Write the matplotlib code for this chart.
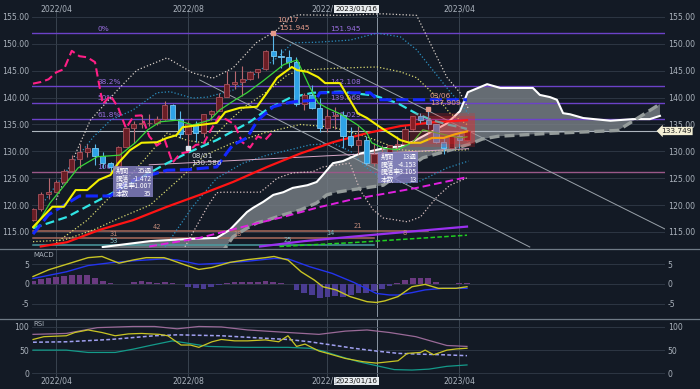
import numpy as np
import matplotlib
matplotlib.use("Agg")
import matplotlib.pyplot as plt
from matplotlib.patches import Rectangle
from matplotlib.lines import Line2D
from matplotlib.transforms import blended_transform_factory

plt.rcParams['font.family'] = ['DejaVu Sans']
JP = ['Noto Sans CJK JP', 'DejaVu Sans']

# weekly candles, index 0 = week of 2022-03-14
opens = [117.3, 119.2, 122.0, 122.5, 124.3, 126.4, 128.5, 129.8, 130.6, 129.2, 127.9, 127.1, 130.9, 134.4, 135.0,
         135.2, 135.2, 136.1, 138.6, 136.1, 133.2, 135.0, 133.5, 136.9, 137.6, 140.2, 142.6, 142.9, 143.4, 144.7,
         145.3, 148.7, 147.7, 147.5, 146.6, 138.8, 140.4, 138.1, 134.3, 136.6, 136.7, 132.8, 131.1, 132.1, 127.9,
         129.6, 129.9, 131.2, 131.4, 134.1, 136.5, 135.9, 135.0, 131.7, 130.7, 132.8, 132.2]
highs = [119.4, 122.4, 125.1, 124.7, 126.7, 129.4, 131.3, 131.3, 131.3, 129.8, 128.0, 131.0, 134.6, 135.6, 136.7,
         137.0, 136.6, 139.4, 138.9, 137.5, 135.6, 135.6, 137.0, 137.7, 140.8, 145.0, 144.9, 145.9, 144.9, 145.4,
         148.9, 151.945, 149.1, 148.8, 147.6, 140.8, 142.3, 139.9, 137.9, 138.2, 137.5, 134.5, 134.8, 132.9, 131.6,
         131.1, 131.2, 132.9, 134.8, 136.5, 137.1, 137.909, 135.1, 132.6, 133.2, 133.8, 134.0]
lows = [117.0, 118.9, 121.2, 122.4, 124.2, 126.3, 126.9, 128.9, 127.5, 126.9, 126.2, 127.0, 130.8, 131.5, 134.3,
        134.7, 134.9, 135.9, 136.9, 132.5, 130.586, 131.7, 132.6, 135.8, 137.5, 140.2, 141.6, 140.3, 143.3, 143.6,
        145.2, 146.2, 145.5, 145.6, 138.5, 137.7, 137.9, 133.6, 133.6, 134.1, 130.6, 130.8, 129.5, 127.5, 127.2,
        129.0, 128.1, 129.8, 131.3, 133.9, 135.3, 134.1, 131.6, 129.6, 130.4, 130.6, 131.9]
closes = [119.2, 122.0, 122.5, 124.3, 126.4, 128.5, 129.8, 130.6, 129.2, 127.9, 127.1, 130.9, 134.4, 135.0, 135.2,
          135.2, 136.1, 138.6, 136.1, 133.2, 135.0, 133.5, 136.9, 137.6, 140.2, 142.6, 142.9, 143.4, 144.7, 145.3,
          148.7, 147.7, 147.5, 146.6, 138.8, 140.4, 138.1, 134.3, 136.6, 136.7, 132.8, 131.1, 132.1, 127.9, 129.6,
          129.9, 131.2, 131.4, 134.1, 136.5, 135.9, 135.0, 131.7, 130.7, 132.8, 132.2, 133.749]

month_pos = [3, 20, 38, 55]
month_labels = ["2022/04", "2022/08", "2022/12", "2023/04"]
cross_pos = 44.4
cross_label = "2023/01/16"
last_price = 133.749

# indicator lines (week index, value)
tenkan_x = [0, 2.5, 4, 5.5, 7, 8.5, 10, 11, 12.5, 14, 16, 17.3, 18.5, 19.3, 21.5, 23.7, 24.8, 26.7, 28.9, 30.2,
            31.5, 33.4, 34.1, 35.4, 36.8, 37.7, 39.6, 40.5, 41.9, 43.1, 44.8, 47.4, 48.6, 50, 51.5, 53, 54.5, 56]
tenkan_y = [115.9, 119.7, 119.7, 122.8, 122.8, 124.7, 125.6, 127.8, 130.2, 131.6, 131.7, 132.5, 133.0, 134.5, 134.9,
            135.3, 137.3, 138.1, 138.3, 140.9, 143.7, 145.7, 145.1, 144.8, 143.8, 142.7, 142.7, 140.5, 137.1, 136.2,
            134.5, 132.1, 131.6, 131.6, 132.5, 132.5, 133.2, 133.7]
kijun_x = [0, 2, 4.5, 6, 10, 12, 14.2, 17.3, 20, 23.7, 25, 25.8, 27.6, 29.0, 31, 32.8, 34, 36.5, 37, 43.5, 44.5, 56]
kijun_y = [114.6, 118.2, 120.4, 121.7, 121.7, 124.1, 125.2, 126.5, 126.6, 127.1, 129.7, 131.2, 132.5, 135.8, 138.3,
           139.0, 139.3, 139.5, 140.9, 140.9, 139.6, 139.6]
green_x = [0.3, 2.2, 3.9, 5.8, 8.3, 11.2, 13.2, 14.8, 16.4, 18.6, 20.6, 22.8, 24.1, 26.1, 27.6, 29.5, 31, 32.3,
           33.2, 34.1, 34.5, 35.7, 36.8, 37.9, 39.6, 41.9, 43.1, 43.7, 45.2, 47, 49, 50.3, 51.6, 53.4, 55.1, 56]
green_y = [115.9, 120.4, 123.4, 126.9, 129.0, 129.3, 131.6, 134.0, 135.5, 135.8, 134.9, 135.8, 137.7, 139.6, 140.9,
           142.9, 144.6, 146.1, 146.6, 147.0, 145.7, 142.0, 139.0, 138.1, 137.0, 134.9, 133.4, 131.6, 130.6, 130.3,
           131.7, 134.0, 133.6, 133.0, 132.5, 132.7]
ma26_x = [0, 4.4, 8.6, 12.9, 17.3, 19.9, 23.7, 28, 30.2, 33.2, 36.1, 39.6, 44, 47, 49.5, 51.5, 53.5, 56]
ma26_y = [115.7, 117.8, 121.0, 124.3, 127.8, 129.7, 132.1, 135.5, 137.8, 140.0, 140.9, 141.1, 140.4, 139.0, 137.0,
          135.8, 135.0, 134.2]
ma52_x = [1, 4.4, 8.6, 12.9, 17.3, 21.5, 25.8, 30.2, 34.5, 38.7, 43.1, 47.4, 51.6, 56]
ma52_y = [112.3, 113.1, 115.4, 117.2, 119.7, 121.9, 124.3, 127.1, 129.6, 131.7, 133.4, 134.7, 135.4, 135.8]
ma104_x = [15, 21.5, 24.5, 28, 32.3, 36.6, 41, 49.5, 56]
ma104_y = [112.3, 113.9, 115.0, 116.3, 117.8, 119.5, 121.0, 123.2, 125.2]
ma156_x = [29.3, 35, 41, 56]
ma156_y = [112.3, 113.3, 114.1, 116.0]
ma200_x = [31.8, 41, 56]
ma200_y = [112.3, 113.0, 114.4]

span_a_x = [9, 15.1, 20, 23.7, 25.4, 27.6, 28.4, 29.7, 31.0, 32.3, 33.5, 35.4, 36.6, 37.4, 38.7, 40.0, 42.2, 45.0,
            47.4, 49.0, 50.3, 51.6, 53.4, 55.1, 56.1, 58.1, 58.6, 60.3, 64.5, 65.4, 66.7, 67.6, 68.4, 69.3, 71.0,
            74.5, 77.4, 79.6, 80.9]
span_a_y = [112.2, 113.3, 113.7, 113.9, 115.4, 118.7, 119.5, 120.6, 121.9, 122.4, 123.2, 123.7, 124.3, 125.6, 127.8,
            128.2, 129.6, 130.5, 131.0, 131.8, 132.8, 133.8, 135.2, 137.5, 141.0, 142.2, 142.5, 141.8, 141.8, 140.5,
            140.1, 139.6, 137.1, 136.9, 136.2, 135.7, 136.0, 136.0, 136.6]
span_b_x = [9, 24, 25.0, 25.8, 27.6, 28.9, 30.2, 32.3, 34.5, 36.6, 37.9, 39.2, 40.9, 45.2, 47.4, 48.6, 50.3, 52.5,
            54.7, 56.8, 58, 60, 66, 71, 75.5, 80.9]
span_b_y = [108, 110.5, 112.4, 114.1, 115.7, 116.7, 117.2, 118.2, 119.1, 120.4, 121.9, 122.4, 122.8, 123.7, 126.0,
            127.1, 128.8, 129.7, 130.6, 131.6, 132.3, 132.8, 133.3, 133.6, 133.9, 138.8]
chikou_shift = 25

bb3_up_x = [3, 5, 7.4, 10.9, 13.4, 17.3, 20.6, 23.2, 25.8, 28.8, 31.5, 33.2, 34.2, 40, 45, 49.5, 53.4, 55.1, 56.2]
bb3_up_y = [121.0, 128.0, 135.8, 141.4, 145.1, 147.4, 144.6, 143.6, 145.5, 150.2, 152.6, 155.0, 155.4, 155.3, 155.6,
            155.3, 143.8, 140.9, 137.9]
bb3_lo_x = [19.4, 22.5, 23.7, 24.4, 29.3, 30.2, 31.5, 33.5, 36.1, 37.4, 40.9, 42.2, 43.9, 45.2, 48.3, 50, 52.1,
            53.8, 56.2]
bb3_lo_y = [111.7, 119.7, 122.3, 122.4, 122.4, 123.4, 125.0, 126.0, 126.2, 127.1, 127.8, 122.8, 119.1, 117.6, 116.9,
            117.8, 121.5, 123.7, 125.2]
bb2_up_x = [1.3, 4.4, 7.8, 10, 12.9, 16, 17.7, 20.6, 22.5, 25.8, 29.3, 31.5, 33.5, 36.6, 40.9, 44.4, 47.4, 49.5,
            51.6, 53.8, 55.1, 56.2]
bb2_up_y = [120.4, 126.5, 132.7, 135.8, 137.7, 140.9, 141.1, 139.9, 140.1, 141.4, 145.1, 147.4, 150.2, 150.3, 150.7,
            152.0, 151.3, 148.9, 145.1, 141.1, 139.0, 137.0]
bb2_lo_x = [16.8, 20.6, 23.7, 27.1, 30.2, 33.2, 35.7, 38.7, 41, 43, 45, 48, 50, 53.4, 56.2]
bb2_lo_y = [111.7, 119.7, 125.0, 127.8, 129.3, 130.3, 131.2, 131.5, 130.0, 127.0, 125.0, 124.0, 124.5, 126.9, 128.2]
bb1_up_x = [3, 7, 11.2, 14.7, 17.3, 20, 22.5, 25.4, 27.6, 30.2, 32.8, 34.5, 39.6, 44.4, 47.4, 49.5, 52.1, 53.8, 56.2]
bb1_up_y = [113.0, 117.2, 123.4, 129.0, 133.4, 132.0, 131.5, 135.8, 138.6, 141.1, 144.2, 145.1, 145.5, 145.7, 144.8,
            143.7, 140.1, 137.1, 134.8]
bb1_lo_x = [0, 4, 8, 11, 15.1, 19, 22.2, 25.8, 30, 34.5, 38.7, 43.1, 47.4, 50, 56.2]
bb1_lo_y = [113.2, 113.5, 115.5, 117.5, 120.0, 125.0, 129.3, 131.6, 133.5, 135.0, 134.5, 132.7, 130.3, 130.0, 130.3]

trend_x = [[31, 81.8], [21.5, 64.1]]
trend_y = [[151.945, 115.37], [143.28, 112.21]]
pink_x = [15, 56.2]
pink_y = [127.5, 130.5]

fib_levels = [151.945, 142.108, 139.068, 136.029, 126.191]
fib_labels = ["0%", "38.2%", "50%", "61.8%", "100%"]
fib_values = ["151.945", "142.108", "139.068", "136.029", ""]

count_levels = [115.2, 113.9, 112.6]
count_ends = [51, 44, 44]
count_text_x = [15.5, 9.9, 9.9, 25.8, 32.3, 37.9, 41.3, 47.7]
count_text_y = [115.56, 114.26, 112.95, 114.26, 113.14, 114.44, 115.74, 114.44]
count_texts = ["42", "31", "53", "18", "25", "14", "21", "8"]

box_labels = ["期間", "騰落", "騰落率", "本数"]
box1_values = ["35週", "-1.472", "-1.007", "35"]
box2_values = ["13週", "-4.153", "-3.105", "13"]

macd_x = [0, 2.0, 4.3, 7.1, 8.9, 11.1, 12.9, 14.6, 16.9, 17.4, 19.7, 21.4, 23.1, 25.4, 27.7, 30.0, 31.1, 32.9, 34.6,
          36.3, 37.4, 39.1, 40.9, 43.1, 44.3, 45.4, 47.1, 48.9, 50.6, 52.3, 54.6, 56.0]
macd_y = [1.9, 3.6, 5.0, 6.7, 7.0, 5.3, 6.1, 6.7, 6.7, 6.4, 4.8, 3.7, 4.2, 5.5, 6.2, 6.7, 7.0, 6.1, 3.1, 1.0, -0.7,
          -1.5, -3.2, -4.5, -4.7, -4.3, -3.2, -0.7, -0.1, -1.1, -1.1, -0.7]
signal_x = [0, 4.3, 7.1, 10.0, 12.9, 16.9, 18.6, 21.4, 24.3, 27.7, 31.1, 32.9, 35.7, 38.6, 41.4, 44.3, 46.0, 47.1,
            48.9, 50.6, 52.9, 56.0]
signal_y = [1.4, 3.1, 4.7, 5.4, 5.9, 6.4, 6.1, 5.0, 5.3, 5.8, 6.5, 6.4, 4.4, 2.7, 0.4, -2.4, -2.8, -2.8, -2.2, -1.5,
            -1.1, -1.1]
hist = [0.7, 1.3, 1.6, 1.8, 2.1, 2.3, 2.4, 2.2, 1.6, 0.8, 0.3, 0.0, 0.1, 0.6, 0.7, 0.5, 0.3, 0.4, 0.2, -0.1, -0.8,
        -1.1, -1.2, -0.8, -0.2, 0.3, 0.5, 0.6, 0.5, 0.6, 0.8, 0.6, 0.3, 0.1, -1.5, -2.4, -2.8, -3.6, -3.3, -3.0,
        -3.2, -2.8, -2.4, -2.2, -1.8, -1.2, -0.6, 0.2, 1.0, 1.6, 1.6, 1.4, 0.6, 0.1, 0.1, 0.2, 0.3]

rsi_x = [0, 1.4, 4.3, 5.4, 7.1, 8.9, 10.6, 12.3, 14.0, 16.3, 17.4, 19.1, 20.3, 21.4, 23.1, 24.3, 26.0, 27.7, 30.0,
         31.7, 32.9, 34.0, 35.1, 36.9, 38.0, 40.3, 42.6, 44.3, 46.0, 47.1, 48.3, 50.0, 50.6, 51.7, 53.4, 54.6, 56.0]
rsi_y = [73, 79, 81, 88, 93.5, 88, 81, 85, 86, 84, 81, 61, 61, 56, 68, 73, 70, 70, 72, 68, 81, 58, 63, 48, 43, 32,
         25, 22, 25, 27, 43, 45, 50, 40, 50, 52.5, 54]
rsi_long_x = [0, 4.3, 7.1, 10.6, 12.9, 15.1, 18.0, 20.3, 22.6, 27.1, 32.9, 35.7, 37.4, 39.7, 42.0, 44.3, 46.6, 48.9,
              51.1, 53.4, 56.0]
rsi_long_y = [50, 50, 45, 45, 52, 60, 70, 64, 58, 56, 56, 54, 48, 36, 25, 16.5, 8, 7, 9, 15, 18]
rsi_up_x = [0, 4.3, 8.3, 12.9, 15.7, 18.6, 21.4, 24.3, 27.7, 32.9, 36.9, 40.3, 43.1, 46.0, 49.4, 51.7, 53.4, 56.0]
rsi_up_y = [84, 86, 98.5, 101, 101, 96, 101, 100, 93.5, 88, 84, 91, 93.5, 88, 79, 68, 60, 58]
rsi_avg_x = [0, 4.3, 10.0, 15.7, 18.6, 24.3, 30.0, 32.9, 35.7, 38.6, 41.4, 44.3, 47.1, 50.6, 52.9, 56.0]
rsi_avg_y = [67, 68, 73, 81, 83, 81, 75.5, 73, 68, 61, 54, 48, 43, 41, 40, 38]

bg = "#131a25"
grid_c = "#323b48"
txt_c = "#aab2bc"

fig = plt.figure(figsize=(7, 3.89), dpi=100, facecolor=bg)
ax = fig.add_axes([32 / 700, 1 - 248 / 389, 633 / 700, 238 / 389])
ax_m = fig.add_axes([32 / 700, 1 - 317 / 389, 633 / 700, 67 / 389])
ax_r = fig.add_axes([32 / 700, 1 - 377 / 389, 633 / 700, 57 / 389])

for a in (ax, ax_m, ax_r):
    a.set_facecolor(bg)
    for s in a.spines.values():
        s.set_visible(False)
    a.set_xlim(-0.13, 81.55)
    a.set_xticks([])
    a.tick_params(axis='y', length=0, pad=2, labelsize=5.6, colors=txt_c, labelleft=True, labelright=True)
    a.grid(axis='y', color=grid_c, lw=0.6)
    for p in month_pos:
        a.axvline(p, color="#39434f", lw=0.7, zorder=0)
    a.axvline(cross_pos, color="#8a95a2", lw=0.7, zorder=0)
    a.set_axisbelow(True)

# ---- main panel
ax.set_ylim(112.02, 156.3)
ax.set_yticks(range(115, 156, 5))
ax.set_yticklabels([f"{v:.2f}" for v in range(115, 156, 5)])

idx = np.arange(len(closes))
o = np.array(opens); c = np.array(closes); h = np.array(highs); l = np.array(lows)
up = c >= o

# cloud
ax.fill(np.r_[span_a_x, span_b_x[::-1]], np.r_[span_a_y, span_b_y[::-1]], color="#7a8188", alpha=0.8, lw=0, zorder=1)
ax.plot(span_a_x, span_a_y, color="white", lw=1.5, zorder=3)
ax.plot(span_b_x, span_b_y, color="#959c9b", lw=2.4, ls=(0, (3, 1.5)), zorder=3)

# fib + horizontal levels
for lev, lab, val in zip(fib_levels, fib_labels, fib_values):
    col = "#6c42c8" if lab != "100%" else "#9a5888"
    ax.axhline(lev, color=col, lw=1.0, zorder=2)
    ax.text(8.3, lev + 0.25, lab, color="#9a6fe0", fontsize=5.3, va='bottom', zorder=2)
    if val:
        ax.text(38.3, lev + 0.25, val, color="#9a6fe0", fontsize=5.3, va='bottom', zorder=2)
ax.axhline(last_price, color="#aeb6bf", lw=0.8, zorder=2)

cnt_cols = ["#a86a5c", "#a86a5c", "#4a9aa0"]
for lev, end, col in zip(count_levels, count_ends, cnt_cols):
    ax.plot([0, end], [lev, lev], color=col, lw=1.1, zorder=2)
for tx, ty, t in zip(count_text_x, count_text_y, count_texts):
    ax.text(tx, ty, t, color="#c08a7a" if t in ("42", "31", "18", "21", "8") else "#7ab8c0", fontsize=4.8, zorder=6)

# bands
ax.plot(bb3_up_x, bb3_up_y, color="#d8cfc8", lw=0.9, ls=':', zorder=2)
ax.plot(bb3_lo_x, bb3_lo_y, color="#d8c0c0", lw=0.9, ls=':', zorder=2)
ax.plot(bb2_up_x, bb2_up_y, color="#2b8fc0", lw=0.9, ls=':', zorder=2)
ax.plot(bb2_lo_x, bb2_lo_y, color="#2b8fc0", lw=0.9, ls=':', zorder=2)
ax.plot(bb1_up_x, bb1_up_y, color="#d8d870", lw=0.9, ls=':', zorder=2)
ax.plot(bb1_lo_x, bb1_lo_y, color="#d8d870", lw=0.9, ls=':', zorder=2)

for tx, ty in zip(trend_x, trend_y):
    ax.plot(tx, ty, color="#9aa2aa", lw=0.7, zorder=2)
ax.plot(pink_x, pink_y, color="#d8a8c8", lw=0.7, zorder=2)

# moving averages
ax.plot(ma200_x, ma200_y, color="#20d020", lw=1.1, ls=(0, (3, 1.5)), zorder=3)
ax.plot(ma156_x, ma156_y, color="#9a30f0", lw=1.6, zorder=3)
ax.plot(ma104_x, ma104_y, color="#e020e0", lw=1.4, ls=(0, (4, 2)), zorder=3)
ax.plot(ma52_x, ma52_y, color="#ff1414", lw=1.6, zorder=3)
ax.plot(ma26_x, ma26_y, color="#30e4e4", lw=1.6, ls=(0, (4, 2)), zorder=3)

# chikou span
ax.plot(idx[:len(closes) - chikou_shift], closes[chikou_shift:], color="#ff1f86", lw=1.5,
        ls=(0, (4, 2)), zorder=3)

# candles
wick_c = np.where(up, "#b86870", "#5ab8ea")
ax.vlines(idx, l, h, colors=wick_c, lw=0.8, zorder=4)
body = np.maximum(np.abs(c - o), 0.15)
ax.bar(idx, body, bottom=np.minimum(o, c), width=0.7,
       color=np.where(up, "#6a1e26", "#2ea2e6"), edgecolor=np.where(up, "#a8525c", "#78c8f2"),
       lw=0.6, zorder=4)

ax.plot(green_x, green_y, color="#3ad43a", lw=0.9, zorder=5)
ax.plot(kijun_x, kijun_y, color="#1428ff", lw=2.2, ls=(0, (4, 1.5)), zorder=5)
ax.plot(tenkan_x, tenkan_y, color="#f4f000", lw=1.5, zorder=5)

# red glow on latest candles
ax.add_patch(Rectangle((48.6, 130.8), 8.4, 6.4, color="#ff2020", alpha=0.2, lw=0, zorder=6))
ax.add_patch(Rectangle((51.0, 131.4), 6.0, 5.2, color="#ff2020", alpha=0.22, lw=0, zorder=6))

# markers + labels
ax.plot([31], [151.945], 's', color="#e49a8a", ms=3, zorder=7)
ax.text(31.5, 154.4, "10/17", color="#e49a8a", fontsize=5.3, va='center', zorder=7)
ax.text(31.7, 152.95, "151.945", color="#e49a8a", fontsize=5.3, va='center', zorder=7)
ax.plot([51], [137.909], 's', color="#e49a8a", ms=3, zorder=7)
ax.text(51.2, 140.3, "03/06", color="#e49a8a", fontsize=5.3, va='center', zorder=7)
ax.text(51.2, 139.0, "137.909", color="#e49a8a", fontsize=5.3, va='center', zorder=7)
ax.plot([20], [130.586], 's', color="#e0e6ee", ms=3, zorder=7)
ax.text(20.4, 129.1, "08/01", color="#d8dde4", fontsize=5.3, va='center', zorder=7)
ax.text(20.4, 127.8, "130.586", color="#d8dde4", fontsize=5.3, va='center', zorder=7)

# measurement boxes
for (x0, x1, y0, y1), vals in zip([(10.3, 15.5, 121.5, 127.3), (44.5, 49.7, 124.1, 129.9)],
                                  [box1_values, box2_values]):
    ax.add_patch(Rectangle((x0, y0), x1 - x0, y1 - y0, color="#8884c8", alpha=0.8, lw=0, zorder=8))
    rows = np.linspace(y1 - 0.95, y0 + 0.65, 4)
    for ry, lab, v in zip(rows, box_labels, vals):
        ax.text(x0 + 0.35, ry, lab, color="white", fontsize=4.8, va='center', family=JP, zorder=9)
        ax.text(x1 - 0.2, ry, v, color="white", fontsize=4.8, va='center', ha='right', family=JP, zorder=9)

# ---- MACD panel
ax_m.set_ylim(-8.4, 8.65)
ax_m.set_yticks([-5, 0, 5])
ax_m.set_yticklabels(["-5", "0", "5"])
ax_m.bar(idx, hist, width=0.75, color=["#6a3a80" if v >= 0 else "#4a3c92" for v in hist], zorder=2)
ax_m.plot(signal_x, signal_y, color="#2434ee", lw=1.0, zorder=3)
ax_m.plot(macd_x, macd_y, color="#c8c424", lw=1.0, zorder=3)
ax_m.text(0.1, 0.92, "MACD", transform=blended_transform_factory(ax_m.transData, ax_m.transAxes),
          color=txt_c, fontsize=5, va='center')

# ---- RSI panel
ax_r.set_ylim(-8, 115)
ax_r.set_yticks([0, 50, 100])
ax_r.set_yticklabels(["0", "50", "100"])
ax_r.plot(rsi_up_x, rsi_up_y, color="#9a6a98", lw=0.9, zorder=3)
ax_r.plot(rsi_avg_x, rsi_avg_y, color="#a0a0f0", lw=1.1, ls=(0, (2.5, 1.5)), zorder=3)
ax_r.plot(rsi_long_x, rsi_long_y, color="#149a8a", lw=0.9, zorder=3)
ax_r.plot(rsi_x, rsi_y, color="#c8c424", lw=0.9, zorder=3)
ax_r.text(0.1, 0.93, "RSI", transform=blended_transform_factory(ax_r.transData, ax_r.transAxes),
          color=txt_c, fontsize=5, va='center')

# panel separators
for yp in (249, 319):
    fig.add_artist(Line2D([0, 1], [1 - yp / 389, 1 - yp / 389], color="#6f7a86", lw=0.9))

# date labels
top_tr = blended_transform_factory(ax.transData, fig.transFigure)
bot_tr = blended_transform_factory(ax_r.transData, fig.transFigure)
for p, lab in zip(month_pos, month_labels):
    ax.text(p, 1 - 9 / 389, lab, transform=top_tr, color=txt_c, fontsize=5.6, ha='center', va='center')
    ax_r.text(p, 1 - 381 / 389, lab, transform=bot_tr, color=txt_c, fontsize=5.6, ha='center', va='center')
for tr, yy in ((top_tr, 9), (bot_tr, 381)):
    ax.text(cross_pos + 0.1, 1 - yy / 389, cross_label, transform=tr, color="#111111", fontsize=5.2,
            ha='right', va='center', zorder=10,
            bbox=dict(boxstyle="square,pad=0.2", fc="#e8ecef", ec="none"))

fig.text(661 / 700, 1 - 131 / 389, f"{last_price:.3f}", color="#222222", fontsize=5.4, va='center', ha='left',
         bbox=dict(boxstyle="larrow,pad=0.15", fc="#f4f0d6", ec="none"))

fig.savefig("out.png", dpi=100, facecolor=bg)
